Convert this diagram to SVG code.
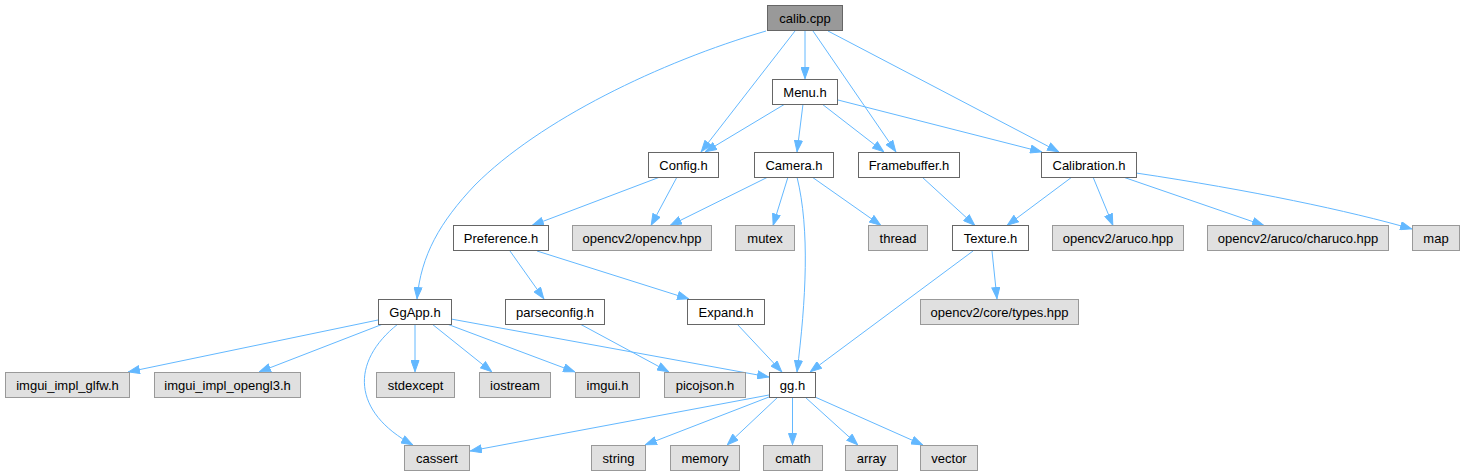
<svg xmlns="http://www.w3.org/2000/svg" width="1464" height="476" viewBox="0 0 1464 476">
<style>
.n rect{fill:#ffffff;stroke:#666666;stroke-width:1}
.x rect{fill:#e0e0e0;stroke:#999999;stroke-width:1}
.r rect{fill:#999999;stroke:#666666;stroke-width:1}
text{font-family:"Liberation Sans",Arial,sans-serif;font-size:13px;fill:#000;text-anchor:middle}
.e path{fill:none;stroke:#63b8ff;stroke-width:1;marker-end:url(#ah)}
</style>
<defs>
<marker id="ah" viewBox="0 0 12 9" refX="12" refY="4.5" markerWidth="12" markerHeight="9" markerUnits="userSpaceOnUse" orient="auto">
<path d="M0.5,0.5 L11.5,4.5 L0.5,8.5 z" fill="#63b8ff" stroke="#63b8ff" stroke-width="1"/>
</marker>
</defs>
<rect width="1464" height="476" fill="#ffffff"/>
<g id="edges" class="e">
<path d="M766,31 C660,62 540,120 475,185 C440,222 421,255 417,299"/>
<path d="M795,31 L701,152"/>
<path d="M805,31 L805,79"/>
<path d="M813,31 L896,152"/>
<path d="M828,31 L1059,152"/>
<path d="M785,104 L705,152"/>
<path d="M803,104 L797,152"/>
<path d="M822,104 L884,152"/>
<path d="M838,100 L1042,152"/>
<path d="M660,177 L532,225.5"/>
<path d="M677,177 L651,225.5"/>
<path d="M768,177 L670,225.5"/>
<path d="M788,177 L773,225.5"/>
<path d="M797,177 C810,230 806,300 797,372"/>
<path d="M812,177 L881,225.5"/>
<path d="M922,177 L975,225.5"/>
<path d="M1072,177 L1007,225.5"/>
<path d="M1093,177 L1113,225.5"/>
<path d="M1123,177 L1264,225.5"/>
<path d="M1136,173 C1250,190 1350,211 1412,229"/>
<path d="M510,251 L544,299"/>
<path d="M537,251 L689,299"/>
<path d="M378,320 L128,372"/>
<path d="M383,324 L259,372"/>
<path d="M398,324 C350,362 352,412 413,445"/>
<path d="M415,324 L415,372"/>
<path d="M432,324 L492,372"/>
<path d="M447,324 L575,372"/>
<path d="M451,319 L769,377"/>
<path d="M580,324 L669,372"/>
<path d="M737,324 L782,372"/>
<path d="M973,251 L810,372"/>
<path d="M992,251 L997,299"/>
<path d="M769,395 L470,451"/>
<path d="M769,397 L645,445"/>
<path d="M778,397 L727,445"/>
<path d="M792.5,397 L792.5,445"/>
<path d="M805,397 L858,445"/>
<path d="M815,397 L923,445"/>
</g>
<g id="node-calib" class="r"><rect x="767.5" y="5.5" width="75" height="25"/><text x="805" y="22.5">calib.cpp</text></g>
<g id="node-menu" class="n"><rect x="772.5" y="79.5" width="65" height="25"/><text x="805" y="96.5">Menu.h</text></g>
<g id="node-config" class="n"><rect x="648.5" y="152.5" width="70" height="25"/><text x="683.5" y="169.5">Config.h</text></g>
<g id="node-camera" class="n"><rect x="754.5" y="152.5" width="79" height="25"/><text x="794" y="169.5">Camera.h</text></g>
<g id="node-framebuffer" class="n"><rect x="858.5" y="152.5" width="101" height="25"/><text x="909" y="169.5">Framebuffer.h</text></g>
<g id="node-calibration" class="n"><rect x="1041.5" y="152.5" width="95" height="25"/><text x="1089" y="169.5">Calibration.h</text></g>
<g id="node-preference" class="n"><rect x="453.5" y="225.5" width="95" height="25"/><text x="501" y="242.5">Preference.h</text></g>
<g id="node-opencv" class="x"><rect x="572.5" y="225.5" width="139" height="25"/><text x="642" y="242.5">opencv2/opencv.hpp</text></g>
<g id="node-mutex" class="x"><rect x="735.5" y="225.5" width="59" height="25"/><text x="765" y="242.5">mutex</text></g>
<g id="node-thread" class="x"><rect x="868.5" y="225.5" width="59" height="25"/><text x="898" y="242.5">thread</text></g>
<g id="node-texture" class="n"><rect x="952.5" y="225.5" width="76" height="25"/><text x="990.5" y="242.5">Texture.h</text></g>
<g id="node-aruco" class="x"><rect x="1052.5" y="225.5" width="131" height="25"/><text x="1118" y="242.5">opencv2/aruco.hpp</text></g>
<g id="node-charuco" class="x"><rect x="1207.5" y="225.5" width="181" height="25"/><text x="1298" y="242.5">opencv2/aruco/charuco.hpp</text></g>
<g id="node-map" class="x"><rect x="1412.5" y="225.5" width="47" height="25"/><text x="1436" y="242.5">map</text></g>
<g id="node-ggapp" class="n"><rect x="378.5" y="299.5" width="73" height="25"/><text x="415" y="316.5">GgApp.h</text></g>
<g id="node-parseconfig" class="n"><rect x="505.5" y="299.5" width="99" height="25"/><text x="555" y="316.5">parseconfig.h</text></g>
<g id="node-expand" class="n"><rect x="687.5" y="299.5" width="77" height="25"/><text x="726" y="316.5">Expand.h</text></g>
<g id="node-types" class="x"><rect x="920.5" y="299.5" width="158" height="25"/><text x="999.5" y="316.5">opencv2/core/types.hpp</text></g>
<g id="node-glfw" class="x"><rect x="5.5" y="372.5" width="124" height="25"/><text x="67.5" y="389.5">imgui_impl_glfw.h</text></g>
<g id="node-opengl3" class="x"><rect x="154.5" y="372.5" width="146" height="25"/><text x="227.5" y="389.5">imgui_impl_opengl3.h</text></g>
<g id="node-stdexcept" class="x"><rect x="376.5" y="372.5" width="78" height="25"/><text x="415.5" y="389.5">stdexcept</text></g>
<g id="node-iostream" class="x"><rect x="479.5" y="372.5" width="71" height="25"/><text x="515" y="389.5">iostream</text></g>
<g id="node-imgui" class="x"><rect x="575.5" y="372.5" width="64" height="25"/><text x="607.5" y="389.5">imgui.h</text></g>
<g id="node-picojson" class="x"><rect x="664.5" y="372.5" width="81" height="25"/><text x="705" y="389.5">picojson.h</text></g>
<g id="node-gg" class="n"><rect x="769.5" y="372.5" width="46" height="25"/><text x="792.5" y="389.5">gg.h</text></g>
<g id="node-cassert" class="x"><rect x="404.5" y="445.5" width="65" height="25"/><text x="437" y="462.5">cassert</text></g>
<g id="node-string" class="x"><rect x="591.5" y="445.5" width="54" height="25"/><text x="618.5" y="462.5">string</text></g>
<g id="node-memory" class="x"><rect x="670.5" y="445.5" width="69" height="25"/><text x="705" y="462.5">memory</text></g>
<g id="node-cmath" class="x"><rect x="763.5" y="445.5" width="59" height="25"/><text x="793" y="462.5">cmath</text></g>
<g id="node-array" class="x"><rect x="845.5" y="445.5" width="52" height="25"/><text x="871.5" y="462.5">array</text></g>
<g id="node-vector" class="x"><rect x="920.5" y="445.5" width="57" height="25"/><text x="949" y="462.5">vector</text></g>
</svg>
